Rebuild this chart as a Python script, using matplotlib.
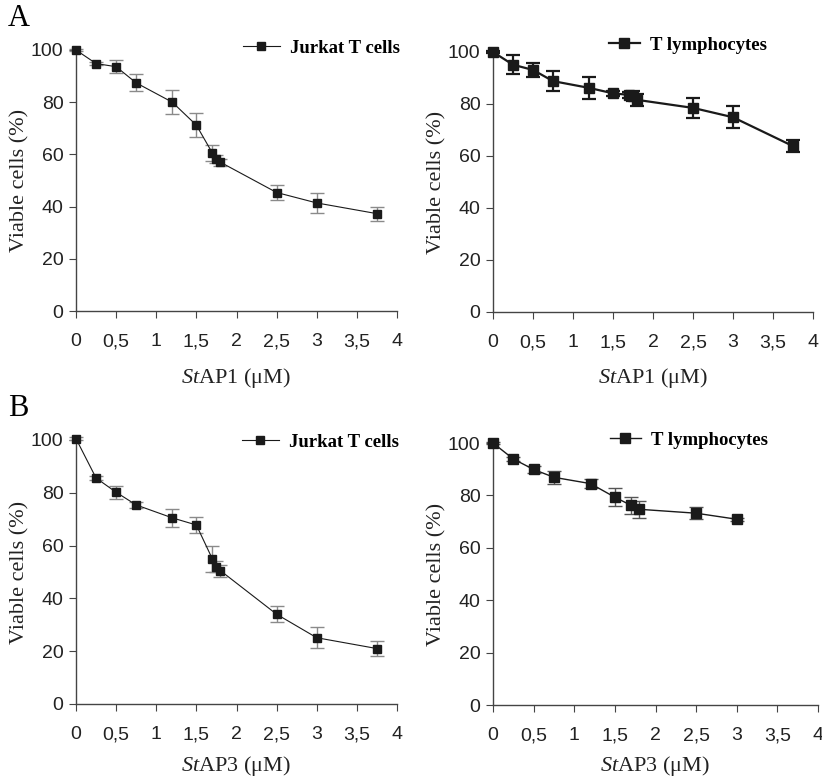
import numpy as np
import matplotlib
matplotlib.use("Agg")
import matplotlib.pyplot as plt
from matplotlib.lines import Line2D

plt.rcParams['mathtext.fontset'] = 'custom'
plt.rcParams['mathtext.rm'] = 'Liberation Serif'
plt.rcParams['mathtext.it'] = 'Liberation Serif:italic'

# concentrations (uM)
dose = [0, 0.25, 0.5, 0.75, 1.2, 1.5, 1.7, 1.75, 1.8, 2.5, 3, 3.75]
dose_b2 = [0, 0.25, 0.5, 0.75, 1.2, 1.5, 1.7, 1.8, 2.5, 3]

# A: StAP1
jurkat_ap1 = [100, 94.8, 93.6, 87.4, 80.0, 71.2, 60.5, 58.3, 57.0, 45.4, 41.4, 37.3]
jurkat_ap1_err = [0.5, 0.6, 2.4, 3.3, 4.5, 4.7, 3.0, 1.5, 1.3, 3.0, 3.8, 2.7]
tlym_ap1 = [100, 95.1, 93.1, 88.8, 86.2, 84.1, 83.5, 83.0, 81.6, 78.5, 74.9, 63.8]
tlym_ap1_err = [0.5, 3.6, 2.7, 3.8, 4.3, 1.0, 1.2, 2.0, 2.2, 3.7, 4.3, 2.2]

# B: StAP3
jurkat_ap3 = [100.5, 85.6, 80.2, 75.4, 70.5, 67.8, 54.9, 52.0, 50.5, 34.0, 25.1, 21.0]
jurkat_ap3_err = [0.5, 0.6, 2.4, 1.3, 3.3, 3.0, 5.0, 2.0, 2.3, 3.0, 4.0, 2.7]
tlym_ap3 = [100, 93.9, 89.9, 86.9, 84.5, 79.3, 76.2, 74.7, 73.2, 70.9]
tlym_ap3_err = [0.4, 0.6, 1.4, 2.4, 1.6, 3.4, 3.3, 3.2, 2.3, 0.5]

xticks = [0, 0.5, 1, 1.5, 2, 2.5, 3, 3.5, 4]
xticklabels = ['0', '0,5', '1', '1,5', '2', '2,5', '3', '3,5', '4']
yticks = [0, 20, 40, 60, 80, 100]

W, H = 822, 780
fig = plt.figure(figsize=(W / 100, H / 100), dpi=100)


def make_ax(l, r, t, b):
    return fig.add_axes([l / W, 1 - b / H, (r - l) / W, (b - t) / H])


def draw_panel(ax, x, y, err, label, drug, ms, lw, ecol, elw, leg_xy,
               hlen, xpad=11):
    ax.errorbar(x, y, yerr=err, color='#1a1a1a', lw=lw, marker='s', ms=ms,
                ecolor=ecol, elinewidth=elw, capsize=5, capthick=elw,
                clip_on=False, zorder=3)
    ax.set_xlim(0, 4)
    ax.set_ylim(0, 100)
    ax.set_xticks(xticks)
    ax.set_xticklabels(xticklabels)
    ax.set_yticks(yticks)
    for s in ['top', 'right']:
        ax.spines[s].set_visible(False)
    for s in ['left', 'bottom']:
        ax.spines[s].set_color('#444444')
        ax.spines[s].set_linewidth(1.0)
    ax.tick_params(axis='x', direction='out', length=5, pad=11,
                   labelsize=14, colors='#444444', labelcolor='#222222')
    ax.tick_params(axis='y', direction='out', length=5, pad=4,
                   labelsize=14, colors='#444444', labelcolor='#222222')
    for t in ax.get_xticklabels() + ax.get_yticklabels():
        t.set_fontfamily('Liberation Sans')
    ax.set_ylabel('Viable cells (%)', fontsize=16, family='Liberation Serif',
                  color='#222222', labelpad=1)
    ax.set_xlabel(r'$\mathit{St}$' + drug + ' (\u03bcM)', fontsize=16,
                  family='Liberation Serif', color='#222222', labelpad=xpad)
    handle = Line2D([], [], color='#1a1a1a', lw=lw, marker='s', ms=ms)
    fx, fy = leg_xy
    ax.legend([handle], [label], loc='center left',
              bbox_to_anchor=(fx / W, 1 - fy / H),
              bbox_transform=fig.transFigure, borderpad=0, borderaxespad=0,
              frameon=False, handlelength=hlen, handletextpad=0.55,
              prop={'family': 'Liberation Serif', 'weight': 'bold',
                    'size': 13.5})
    return ax


ax1 = make_ax(76, 397, 50, 311)
draw_panel(ax1, dose, jurkat_ap1, jurkat_ap1_err, 'Jurkat T cells', 'AP1',
           5.5, 0.8, '#8a8a8a', 1.0, (243, 48), 1.95)
ax2 = make_ax(493, 813, 52, 312)
draw_panel(ax2, dose, tlym_ap1, tlym_ap1_err, 'T lymphocytes', 'AP1',
           7, 1.6, '#1a1a1a', 1.6, (609, 45), 1.65)
ax3 = make_ax(76, 397, 440, 704)
draw_panel(ax3, dose, jurkat_ap3, jurkat_ap3_err, 'Jurkat T cells', 'AP3',
           6, 0.8, '#8a8a8a', 1.0, (242, 442), 1.95, xpad=8)
ax4 = make_ax(493, 818, 443, 705)
draw_panel(ax4, dose_b2, tlym_ap3, tlym_ap3_err, 'T lymphocytes', 'AP3',
           6.5, 1.0, '#555555', 1.0, (610, 440), 1.65, xpad=7)

fig.text(8 / W, 1 - 19 / H, 'A', fontsize=22, family='Liberation Serif',
         va='center', ha='left')
fig.text(8 / W, 1 - 408 / H, 'B', fontsize=22, family='Liberation Serif',
         va='center', ha='left')

fig.savefig('out.png', dpi=100)
